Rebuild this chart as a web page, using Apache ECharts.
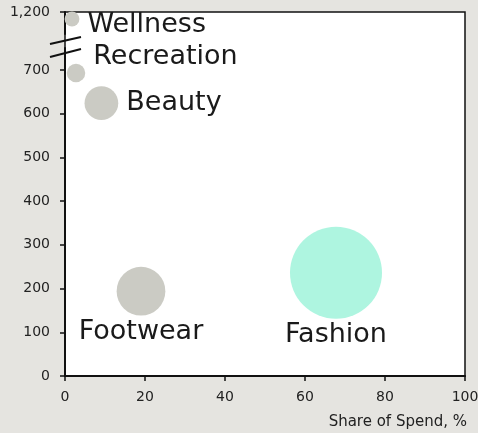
<!DOCTYPE html>
<html>
<head>
<meta charset="utf-8">
<style>
  html, body { margin: 0; padding: 0; background: #e5e4e0; }
  #chart { width: 478px; height: 433px; }
</style>
<script src="https://cdn.jsdelivr.net/npm/echarts@6/dist/echarts.min.js"></script>
</head>
<body>
<div id="chart"></div>
<script>
// Categories and their metrics
const categories = ['Wellness', 'Recreation', 'Beauty', 'Footwear', 'Fashion'];
const shareOfSpend = [1.75, 2.75, 9.1, 19, 67.75];
const yValues = [1184, 693, 624, 194, 236];
const xTicks = [0, 20, 40, 60, 80, 100];
const yTicks = [0, 100, 200, 300, 400, 500, 600, 700, 1200];

const FONT = 'DejaVu Sans';
const GREY = '#cbcbc4';
const ACCENT = '#aef5e0';

// Per-category label placement
const labelLayout = {
  Wellness:   { position: 'right', distance: 8, offset: [0, 6] },
  Recreation: { position: 'right', distance: 8, offset: [0, -16] },
  Beauty:     { position: 'right', distance: 8 },
  Footwear:   { position: 'bottom', distance: 3 },
  Fashion:    { position: 'bottom', distance: 3 }
};

const data = categories.map((name, i) => ({
  name,
  value: [shareOfSpend[i], yValues[i]],
  itemStyle: { color: name === 'Fashion' ? ACCENT : GREY, opacity: 1 },
  label: Object.assign({ show: true }, labelLayout[name])
}));

const chart = echarts.init(document.getElementById('chart'), null, { renderer: 'canvas' });

chart.setOption({
  backgroundColor: '#e5e4e0',
  animation: false,
  grid: {
    left: 65, right: 13, top: 12, bottom: 57,
    outerBoundsMode: 'none',
    show: true, backgroundColor: '#ffffff', borderColor: '#111', borderWidth: 1.5
  },
  xAxis: {
    type: 'value',
    min: 0, max: 100, interval: 20,
    name: 'Share of Spend, %',
    nameLocation: 'end',
    nameGap: 2,
    nameTextStyle: {
      fontFamily: FONT, fontSize: 15, color: '#222',
      align: 'right', verticalAlign: 'top', padding: [39, 0, 0, 0]
    },
    splitLine: { show: false },
    axisLine: { lineStyle: { color: '#111', width: 2 } },
    axisTick: { show: true, length: 5, customValues: xTicks, lineStyle: { color: '#111', width: 1.5 } },
    axisLabel: {
      fontFamily: FONT, fontSize: 14, color: '#222', margin: 14,
      customValues: xTicks
    }
  },
  yAxis: {
    type: 'value',
    min: 0, max: 1200, interval: 100,
    breaks: [{ start: 750, end: 1150, gap: '3.9%' }],
    breakArea: { show: false },
    splitLine: { show: false },
    axisLine: { lineStyle: { color: '#111', width: 2 } },
    axisTick: { show: true, length: 5, customValues: yTicks, lineStyle: { color: '#111', width: 1.5 } },
    axisLabel: {
      fontFamily: FONT, fontSize: 14, color: '#222', margin: 15,
      customValues: yTicks,
      formatter: v => v.toLocaleString('en-US')
    }
  },
  series: [{
    type: 'scatter',
    data,
    symbolSize: val => 11.18 * Math.sqrt(val[0]),
    label: {
      formatter: '{b}',
      fontFamily: FONT, fontSize: 27, color: '#1a1a1a'
    },
    emphasis: { disabled: true }
  }],
  graphic: [
    { type: 'line', z: 100, shape: { x1: 50, y1: 44, x2: 81, y2: 37 }, style: { stroke: '#111', lineWidth: 2 } },
    { type: 'line', z: 100, shape: { x1: 50, y1: 57, x2: 81, y2: 49 }, style: { stroke: '#111', lineWidth: 2 } }
  ]
});
</script>
</body>
</html>
